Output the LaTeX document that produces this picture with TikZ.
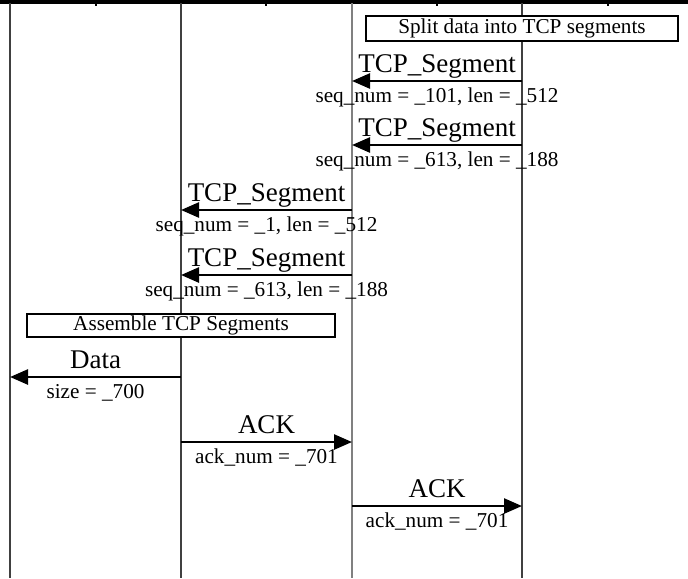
\documentclass[tikz,border=0pt]{standalone}
\usepackage{fontspec}
\setmainfont{Liberation Serif}
\usetikzlibrary{arrows.meta,calc}
\begin{document}
\begin{tikzpicture}[x=0.5pt,y=-0.5pt,
		msg/.style={line width=1.25pt,-{Triangle[length=9pt,width=7.5pt]}},
		lbl/.style={anchor=base,inner sep=0pt,font=\fontsize{13.5}{15}\selectfont},
		sublbl/.style={anchor=base,inner sep=0pt,font=\fontsize{10.6}{12}\selectfont},
		hop/.style={draw,line width=1pt,fill=white,inner sep=0pt,font=\fontsize{10.6}{12}\selectfont},
		life/.style={line width=0.6pt,black!75}]
		\useasboundingbox (0,0) rectangle (688,578);
		% thanh trên cùng
		\draw[line width=1.75pt] (0,1.75) -- (688,1.75);
		\foreach \x in {96,266,437,608}
			\draw[line width=1pt] (\x,0) -- (\x,6);
		% đường đời
		\foreach \i/\x in {a/10,b/181,d/522}{
			\coordinate (top\i) at (\x,3);
			\coordinate (bot\i) at (\x,578);
			\draw[life] (top\i) -- (bot\i);
		}
		\coordinate (topc) at (352,3);
		\coordinate (botc) at (352,578);
		\draw[line width=1pt,black!50] (topc) -- (botc);
		% hộp xử lý
		\node[hop,minimum width=156pt,minimum height=12.5pt] (split) at (522,28.5) {Split data into TCP segments};
		\node[hop,minimum width=154pt,minimum height=11.5pt] (assemble) at (181,325.5) {Assemble TCP Segments};
		% thông điệp
		\foreach \a/\b/\y/\l/\s [count=\n] in {
				522/352/81/TCP\_Segment/{seq\_num = \_101, len = \_512},
				522/352/145/TCP\_Segment/{seq\_num = \_613, len = \_188},
				352/181/210/TCP\_Segment/{seq\_num = \_1, len = \_512},
				352/181/275/TCP\_Segment/{seq\_num = \_613, len = \_188},
				181/10/377/Data/{size = \_700},
				181/352/442/ACK/{ack\_num = \_701},
				352/522/506/ACK/{ack\_num = \_701}}{
			\coordinate (s\n) at (\a,\y);
			\coordinate (e\n) at (\b,\y);
			\draw[msg] (s\n) -- (e\n);
			\node[lbl] (m\n) at ($(s\n)!0.5!(e\n)+(0,-8.5)$) {\l};
			\node[sublbl] (n\n) at ($(s\n)!0.5!(e\n)+(0,21)$) {\s};
		}
\end{tikzpicture}
\end{document}
